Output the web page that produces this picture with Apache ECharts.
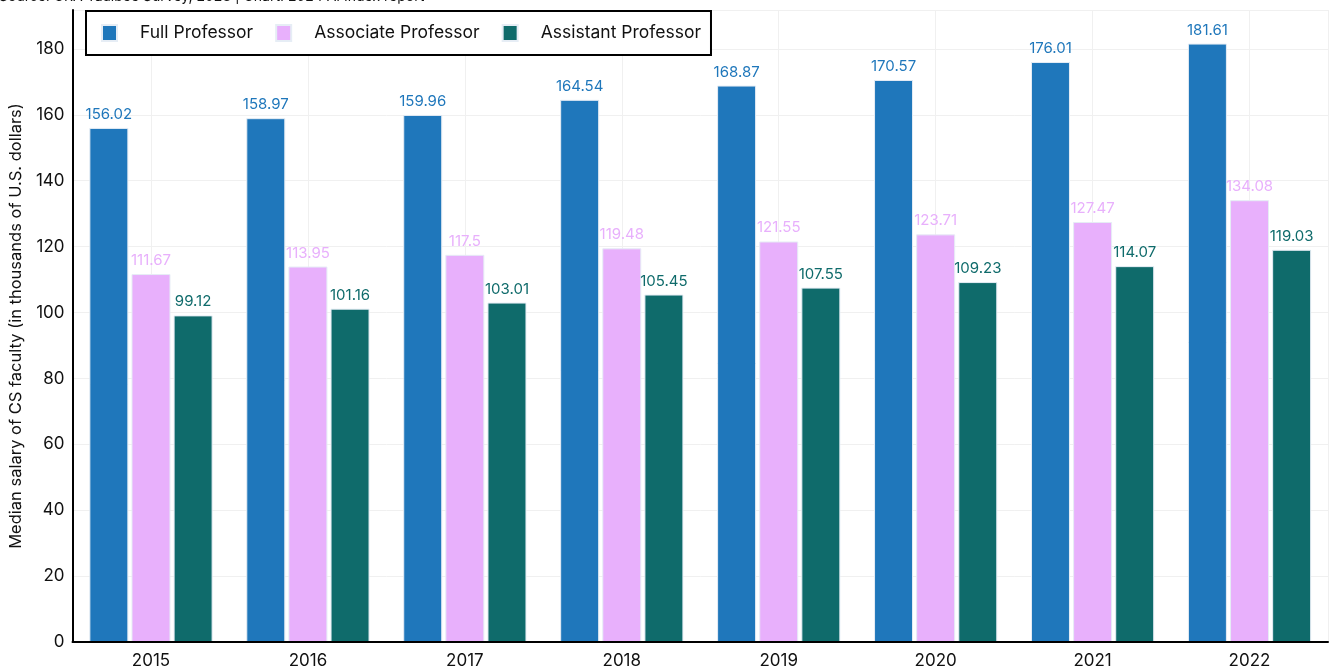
<!DOCTYPE html>
<html>
<head>
<meta charset="utf-8">
<script src="https://cdn.jsdelivr.net/npm/echarts@6.0.0/dist/echarts.min.js"></script>
<style>
  html, body { margin: 0; padding: 0; background: #fff; }
  #chart { width: 1333px; height: 671px; }
</style>
</head>
<body>
<div id="chart"></div>
<script>
var years = ['2015', '2016', '2017', '2018', '2019', '2020', '2021', '2022'];
var fullProf = [156.02, 158.97, 159.96, 164.54, 168.87, 170.57, 176.01, 181.61];
var assocProf = [111.67, 113.95, 117.5, 119.48, 121.55, 123.71, 127.47, 134.08];
var asstProf = [99.12, 101.16, 103.01, 105.45, 107.55, 109.23, 114.07, 119.03];

var FONT = 'Inter, "Noto Sans", sans-serif';

// half-slots used only to put the vertical grid lines through the year centres
var halfSlots = [];
years.forEach(function (y) { halfSlots.push(y + 'a', y + 'b'); });

function barSeries(name, data, color) {
    return {
        name: name,
        type: 'bar',
        data: data,
        barWidth: 39,
        barGap: '8%',
        itemStyle: {
            color: color,
            borderColor: '#e6edf5',
            borderWidth: 1
        },
        label: {
            show: true,
            position: 'top',
            distance: 6,
            color: color,
            fontFamily: FONT,
            fontSize: 15
        }
    };
}

var chart = echarts.init(document.getElementById('chart'));

chart.setOption({
    animation: false,
    backgroundColor: '#fff',
    title: {
        text: 'Source: CRA Taulbee Survey, 2023 | Chart: 2024 AI Index report',
        left: -1,
        top: -10,
        padding: 0,
        textStyle: { fontFamily: FONT, fontSize: 14, fontWeight: 'normal', color: '#111' }
    },
    grid: { left: 71, right: 5, top: 10, bottom: 29 },
    legend: {
        left: 86,
        top: 11,
        padding: [13, 10, 13, 15],
        borderColor: '#000',
        borderWidth: 2,
        backgroundColor: '#fff',
        itemWidth: 15,
        itemHeight: 16,
        itemGap: 22,
        icon: 'rect',
        textStyle: { fontFamily: FONT, fontSize: 17.5, color: '#111', padding: [0, 0, 0, 18] },
        data: ['Full Professor', 'Associate Professor', 'Assistant Professor']
    },
    xAxis: [{
        type: 'category',
        data: years,
        axisLine: { lineStyle: { color: '#000', width: 2 } },
        axisTick: { show: false },
        axisLabel: { fontFamily: FONT, fontSize: 17, color: '#111', margin: 10 },
        splitLine: { show: false },
        z: 3
    }, {
        type: 'category',
        data: halfSlots,
        position: 'bottom',
        axisLine: { show: false },
        axisTick: { show: false },
        axisLabel: { show: false },
        splitLine: {
            show: true,
            interval: function (i) { return i % 2 === 1; },
            lineStyle: { color: '#f0f0f0' }
        }
    }],
    yAxis: {
        type: 'value',
        min: 0,
        max: 191.8,
        interval: 20,
        name: 'Median salary of CS faculty (in thousands of U.S. dollars)',
        nameLocation: 'middle',
        nameGap: 43,
        nameTextStyle: { fontFamily: FONT, fontSize: 16.5, color: '#111' },
        axisLine: { show: true, lineStyle: { color: '#000', width: 2 } },
        axisTick: { show: false },
        axisLabel: {
            fontFamily: FONT, fontSize: 17, color: '#111', margin: 8,
            formatter: function (v) { return v % 20 === 0 ? v : ''; }
        },
        splitLine: { lineStyle: { color: '#f0f0f0' } }
    },
    series: [
        barSeries('Full Professor', fullProf, '#1f77bb'),
        barSeries('Associate Professor', assocProf, '#e8b0fc'),
        barSeries('Assistant Professor', asstProf, '#0f6b6b')
    ]
});
</script>
</body>
</html>
